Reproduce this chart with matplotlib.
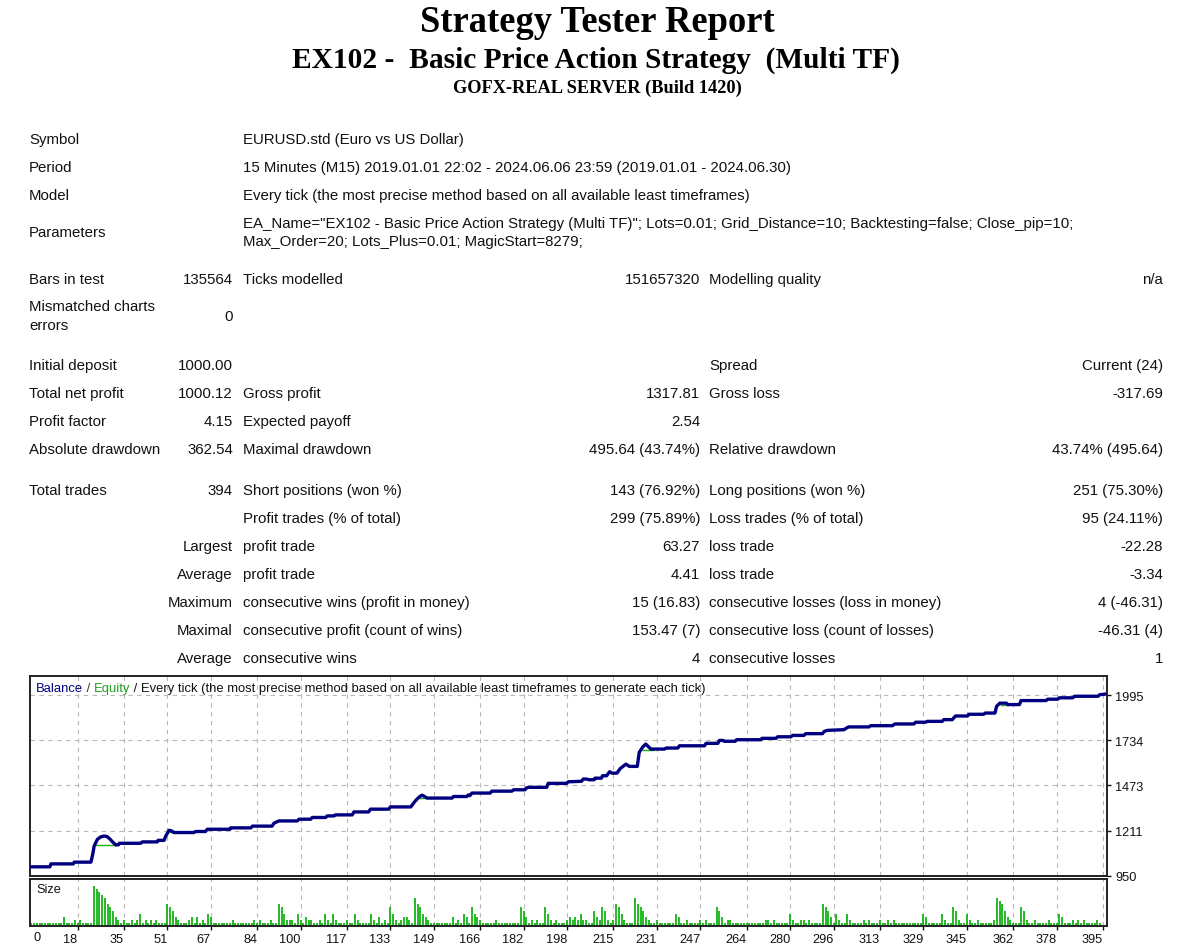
import matplotlib
matplotlib.use("Agg")
import matplotlib.pyplot as plt

W, H = 1200, 953

# header
title = "Strategy Tester Report"
subtitle = "EX102 -  Basic Price Action Strategy  (Multi TF)"
server = "GOFX-REAL SERVER (Build 1420)"

# settings block
info_labels = ["Symbol", "Period", "Model"]
info_values = [
    "EURUSD.std (Euro vs US Dollar)",
    "15 Minutes (M15) 2019.01.01 22:02 - 2024.06.06 23:59 (2019.01.01 - 2024.06.30)",
    "Every tick (the most precise method based on all available least timeframes)",
]
param_lines = [
    'EA_Name="EX102 - Basic Price Action Strategy (Multi TF)"; Lots=0.01; Grid_Distance=10; Backtesting=false; Close_pip=10;',
    "Max_Order=20; Lots_Plus=0.01; MagicStart=8279;",
]

# results table, 6 columns per row
stats_rows = [
    ["Bars in test", "135564", "Ticks modelled", "151657320", "Modelling quality", "n/a"],
    ["", "0", "", "", "", ""],
    ["Initial deposit", "1000.00", "", "", "Spread", "Current (24)"],
    ["Total net profit", "1000.12", "Gross profit", "1317.81", "Gross loss", "-317.69"],
    ["Profit factor", "4.15", "Expected payoff", "2.54", "", ""],
    ["Absolute drawdown", "362.54", "Maximal drawdown", "495.64 (43.74%)", "Relative drawdown", "43.74% (495.64)"],
    ["Total trades", "394", "Short positions (won %)", "143 (76.92%)", "Long positions (won %)", "251 (75.30%)"],
    ["", "", "Profit trades (% of total)", "299 (75.89%)", "Loss trades (% of total)", "95 (24.11%)"],
    ["", "Largest", "profit trade", "63.27", "loss trade", "-22.28"],
    ["", "Average", "profit trade", "4.41", "loss trade", "-3.34"],
    ["", "Maximum", "consecutive wins (profit in money)", "15 (16.83)", "consecutive losses (loss in money)", "4 (-46.31)"],
    ["", "Maximal", "consecutive profit (count of wins)", "153.47 (7)", "consecutive loss (count of losses)", "-46.31 (4)"],
    ["", "Average", "consecutive wins", "4", "consecutive losses", "1"],
]

# balance curve (trade no., balance)
bal_x = [1, 7.8, 8.2, 16.4, 16.8, 22.9, 23.5, 24.1, 25.3, 26.5, 27.8, 28.8, 29.6, 30.8, 32, 33,
         33.3, 41.2, 41.8, 47.3, 47.6, 49.8, 50.4, 51.6, 52.6, 53.4, 60.8, 61.4, 65, 65.7, 74,
         74.3, 81.7, 82.3, 89.5, 90.2, 92, 98.8, 99.4, 103.7, 104.3, 109.2, 109.8, 112.3, 112.8,
         119, 119.6, 125, 125.7, 132.4, 133, 140.5, 141.5, 142.2, 143.5, 144.6, 145.5, 146.5,
         155.7, 156.2, 161.1, 161.6, 162.2, 163, 169.7, 170.3, 177.7, 178.3, 182.5, 183, 183.8,
         190.5, 191, 197.8, 198.4, 203.3, 203.9, 205.1, 206, 208, 208.2, 210.6, 211, 212.5, 213.6,
         214.5, 216.3, 217.5, 219.6, 220.9, 223.8, 224.5, 225.7, 226.9, 228.8, 233.8, 234.4,
         238.7, 239.3, 248.5, 249.1, 253.4, 254, 255.3, 255.8, 259.8, 260.3, 269.3, 269.6, 274.8,
         275.4, 280.3, 280.9, 285.1, 285.7, 291.9, 292.5, 293.7, 299.8, 301, 301.6, 309, 309.6,
         317.6, 318.5, 325.5, 326.1, 329.8, 330.4, 335.9, 336.5, 339.6, 340.8, 345.2, 345.7,
         351.2, 351.7, 355.3, 355.9, 357.1, 359.5, 360, 364.3, 364.9, 374.1, 374.7, 378.4, 379,
         383.9, 384.6, 393.2, 393.8, 395.6]
bal_y = [1003, 1003, 1020, 1020, 1030, 1030, 1070, 1124, 1162, 1176, 1181, 1178, 1168, 1148, 1130, 1130,
         1139, 1139, 1147, 1147, 1156, 1156, 1180, 1214, 1210, 1201, 1201, 1207, 1207, 1220, 1220,
         1228, 1228, 1238, 1238, 1255, 1268, 1268, 1278, 1278, 1288, 1288, 1297, 1297, 1303,
         1303, 1320, 1320, 1336, 1336, 1349, 1349, 1370, 1384, 1405, 1417, 1410, 1400,
         1400, 1409, 1409, 1418, 1414, 1429, 1429, 1440, 1440, 1448, 1448, 1458, 1462,
         1462, 1485, 1485, 1494, 1497, 1510, 1510, 1506, 1506, 1515, 1515, 1529, 1529, 1552,
         1544, 1544, 1570, 1596, 1583, 1583, 1664, 1693, 1712, 1683, 1683, 1689,
         1689, 1702, 1702, 1716, 1716, 1733, 1733, 1728, 1728, 1737, 1737, 1745, 1745,
         1754, 1754, 1762, 1762, 1772, 1772, 1785, 1791, 1795, 1807, 1811, 1811, 1818,
         1818, 1828, 1828, 1838, 1838, 1843, 1843, 1853, 1853, 1874, 1874, 1884,
         1884, 1891, 1891, 1930, 1948, 1948, 1940, 1940, 1963, 1963, 1971, 1971, 1979,
         1979, 1988, 1988, 1997, 2000]

# equity where it shows below the balance bumps (from, to, level)
equity_start = [24.5, 51.5, 143.0, 225.5, 357.0]
equity_end = [32.0, 54.0, 147.0, 230.0, 360.0]
equity_level = [1128, 1205, 1400, 1680, 1940]

# lot size per trade (x0.01), trades 1..394
sizes = [
    1, 1, 1, 1, 1, 1, 1, 1, 1, 1, 1, 1, 3, 1, 1, 1, 2, 1, 2, 1,
    1, 1, 1, 13, 12, 11, 10, 9, 7, 6, 5, 3, 2, 1, 2, 1, 1, 2, 1, 2,
    4, 1, 2, 1, 2, 1, 2, 1, 1, 1, 7, 6, 5, 3, 2, 1, 1, 1, 2, 3,
    1, 3, 1, 2, 1, 4, 3, 1, 1, 1, 1, 1, 1, 1, 2, 1, 1, 1, 1, 1,
    1, 1, 2, 1, 2, 1, 1, 1, 2, 1, 1, 7, 6, 4, 2, 2, 2, 1, 4, 2,
    1, 3, 2, 2, 1, 1, 2, 1, 4, 2, 1, 4, 2, 1, 1, 1, 2, 1, 1, 4,
    2, 1, 1, 1, 1, 4, 2, 1, 3, 1, 2, 1, 6, 4, 2, 1, 2, 3, 3, 2,
    1, 9, 7, 6, 4, 3, 2, 1, 1, 1, 1, 1, 1, 1, 1, 3, 1, 2, 1, 4,
    3, 1, 6, 4, 3, 2, 1, 1, 1, 1, 1, 2, 1, 1, 1, 1, 1, 1, 1, 1,
    6, 5, 3, 1, 2, 1, 2, 1, 1, 6, 4, 2, 1, 2, 1, 1, 1, 2, 3, 2,
    3, 2, 4, 2, 2, 1, 1, 5, 3, 2, 6, 5, 2, 1, 2, 7, 6, 4, 2, 1,
    1, 1, 9, 7, 6, 5, 3, 2, 1, 1, 2, 1, 1, 1, 1, 1, 1, 4, 3, 1,
    1, 2, 1, 1, 1, 1, 2, 1, 2, 1, 1, 1, 6, 5, 3, 1, 2, 2, 1, 1,
    1, 1, 1, 1, 1, 1, 1, 1, 1, 1, 2, 2, 1, 2, 1, 1, 1, 1, 1, 4,
    2, 1, 1, 2, 2, 1, 2, 1, 1, 1, 1, 7, 6, 5, 3, 1, 4, 2, 1, 1,
    4, 2, 1, 1, 1, 1, 2, 1, 2, 1, 1, 1, 2, 1, 1, 2, 1, 2, 1, 1,
    1, 1, 1, 1, 1, 1, 1, 1, 4, 3, 1, 1, 1, 1, 1, 4, 2, 1, 1, 6,
    5, 2, 1, 1, 4, 2, 1, 1, 2, 1, 1, 1, 1, 1, 2, 9, 8, 7, 5, 3,
    2, 1, 1, 1, 6, 5, 2, 1, 1, 2, 1, 1, 1, 1, 2, 1, 1, 1, 4, 3,
    1, 1, 1, 2, 1, 2, 1, 2, 1, 1, 1, 1, 2, 1,
]
trades = list(range(1, len(sizes) + 1))

x_ticks = [0, 18, 35, 51, 67, 84, 100, 117, 133, 149, 166, 182, 198, 215, 231, 247,
           264, 280, 296, 313, 329, 345, 362, 378, 395]
y_ticks = [950, 1211, 1473, 1734, 1995]

legend_parts = ["Balance", " / ", "Equity", " / Every tick (the most precise method based on all available least timeframes to generate each tick)"]
legend_colors = ["#000080", "#333333", "#20a020", "#111111"]

BLUE = "#000080"
GREEN = "#14b414"
GRID = "#b8b8b8"
SANS = "Liberation Sans"
SERIF = "Liberation Serif"


def fx(x):
    return x / W


def fy(y):
    return 1 - y / H


fig = plt.figure(figsize=(W / 100, H / 100), dpi=100)
fig.patch.set_facecolor("white")

# titles
fig.text(fx(597), fy(22), title, ha="center", va="center", family=SERIF,
         weight="bold", fontsize=26.3, color="black")
fig.text(fx(596), fy(60), subtitle, ha="center", va="center", family=SERIF,
         weight="bold", fontsize=21.2, color="black")
fig.text(fx(597), fy(88), server, ha="center", va="center", family=SERIF,
         weight="bold", fontsize=13.2, color="black")

fs = 10.8
txt = dict(va="center", family=SANS, fontsize=fs, color="#111111")

for i, (lab, val) in enumerate(zip(info_labels, info_values)):
    y = 140 + i * 28
    fig.text(fx(29), fy(y), lab, ha="left", **txt)
    fig.text(fx(243), fy(y), val, ha="left", **txt)

fig.text(fx(29), fy(233), "Parameters", ha="left", **txt)
fig.text(fx(243), fy(224), param_lines[0], ha="left", **txt)
fig.text(fx(243), fy(242), param_lines[1], ha="left", **txt)

row_y = [280, 317, 366, 394, 422, 450, 491, 519, 547, 575, 603, 631, 659]
col_x = [29, 233, 243, 700, 709, 1163]
col_ha = ["left", "right", "left", "right", "left", "right"]
for row, y in zip(stats_rows, row_y):
    for cell, x, ha in zip(row, col_x, col_ha):
        if cell:
            fig.text(fx(x), fy(y), cell, ha=ha, **txt)
fig.text(fx(29), fy(307), "Mismatched charts", ha="left", **txt)
fig.text(fx(29), fy(326), "errors", ha="left", **txt)

# graph
xmin, xmax = 0.5, 396.5
ax = fig.add_axes([fx(30), fy(877), fx(1077), 200 / H])
ax2 = fig.add_axes([fx(30), fy(927), fx(1077), 47 / H])

ax.plot(bal_x, bal_y, color=BLUE, lw=2.4, solid_joinstyle="round", zorder=3)
ax.hlines(equity_level, equity_start, equity_end, color=GREEN, lw=1.0, zorder=2)
ax.set_xlim(xmin, xmax)
ax.set_ylim(950, 2105)
ax.set_yticks(y_ticks)
ax.set_yticklabels([str(v) for v in y_ticks])
ax.yaxis.tick_right()
ax.set_xticks(x_ticks[1:])
ax.tick_params(axis="x", length=0, labelbottom=False)
ax.tick_params(axis="y", length=3, width=1, pad=3, labelsize=9.2, colors="#111111")
for lbl in ax.get_yticklabels():
    lbl.set_family(SANS)

ax2.vlines(trades, 0, sizes, color=GREEN, lw=1.3)
ax2.set_xlim(xmin, xmax)
ax2.set_ylim(0, 15.2)
ax2.set_yticks([])
ax2.set_xticks(x_ticks[1:])
ax2.set_xticklabels([str(v) for v in x_ticks[1:]])
ax2.tick_params(axis="x", length=3, width=1, pad=2, labelsize=9.2, colors="#111111")
for lbl in ax2.get_xticklabels():
    lbl.set_ha("right")
    lbl.set_family(SANS)
ax2.text(0.003, -0.24, str(x_ticks[0]), transform=ax2.transAxes, ha="left", va="center",
         family=SANS, fontsize=9.2, color="#111111")

for a in (ax, ax2):
    a.set_facecolor("white")
    a.grid(True, axis="x", color=GRID, lw=0.8, ls=(0, (4, 4)))
    for s in a.spines.values():
        s.set_linewidth(1.4)
        s.set_color("#222222")
ax.grid(True, axis="y", color=GRID, lw=0.8, ls=(0, (4, 4)))
ax.set_axisbelow(True)
ax2.set_axisbelow(True)

ax2.text(0.006, 0.78, "Size", transform=ax2.transAxes, ha="left", va="center",
         family=SANS, fontsize=9.2, color="#111111")

# multi-coloured caption
renderer = fig.canvas.get_renderer()
cx = 36
for part, col in zip(legend_parts, legend_colors):
    t = fig.text(fx(cx), fy(689), part, ha="left", va="center", family=SANS,
                 fontsize=9.4, color=col)
    cx += t.get_window_extent(renderer).width

fig.savefig("out.png", dpi=100, facecolor="white")
